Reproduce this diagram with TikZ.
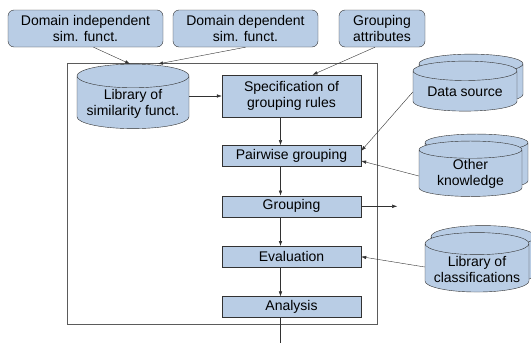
\documentclass[tikz,border=0pt]{standalone}
\usepackage{fontspec}
\setmainfont{Liberation Sans}
\usetikzlibrary{shapes.geometric, shadows, positioning, arrows.meta}
\definecolor{boxblue}{RGB}{185,205,229}
\definecolor{linegray}{RGB}{50,50,50}
\tikzset{
>={Latex[length=5pt,width=3.5pt]}, % small solid arrow heads
every node/.style={font=\fontsize{14}{16}\selectfont, align=center}, % size of all the texts
flow/.style={draw=linegray, ->}, % every connector
source/.style={draw=linegray, fill=boxblue, rounded corners=6pt, minimum height=37pt, inner sep=1pt}, % boxes over the frame
stepbox/.style={draw=linegray, fill=boxblue, minimum width=139pt, minimum height=21pt, inner sep=1pt}, % steps in the frame
store/.style={cylinder, shape border rotate=90, aspect=0.25, draw=linegray, fill=boxblue, inner sep=1pt}, % one database
stack/.style={store, copy shadow={shadow xshift=6pt, shadow yshift=7pt, fill=boxblue, draw=linegray}}, % two databases
}

\begin{document}
\begin{tikzpicture}[x=1pt, y=-1pt]
\useasboundingbox (0,0) rectangle (531,343);
\draw[linegray!80] (67,63) rectangle (377,324);

\node[source, minimum width=155pt] (indep) at (85.5,28.5) {Domain independent\\sim. funct.};
\node[source, minimum width=145pt] (dep) at (245.5,28.5) {Domain dependent\\sim. funct.};
\node[source, minimum width=86pt] (attr) at (382,28.5) {Grouping\\attributes};

\node[store, minimum width=112pt, minimum height=57pt] (simlib) at (133,103.5) {Library of\\similarity funct.};
\node[stepbox, minimum height=42pt] (spec) at (291.5,96) {Specification of\\grouping rules};
\node[stepbox, below=28pt of spec] (pair) {Pairwise grouping};
\node[stepbox, below=29pt of pair] (grp) {Grouping};
\node[stepbox, below=29pt of grp] (eval) {Evaluation};
\node[stepbox, below=29pt of eval] (anal) {Analysis};

\node[stack, minimum width=104pt, minimum height=50pt] (data) at (465,92) {Data source};
\node[stack, minimum width=103pt, minimum height=48pt] (know) at (470.5,174) {Other\\knowledge};
\node[stack, minimum width=104pt, minimum height=48pt] (class) at (477,269) {Library of\\classifications};

\coordinate[right=36pt of grp.east] (grpout);
\coordinate[below=31pt of anal.south, xshift=-11pt] (out);

\path ([xshift=8pt]indep.south) edge[flow] ([xshift=-3pt]simlib.north)
(dep.south) edge[flow] ([xshift=25pt]simlib.north)
([xshift=-7pt]attr.south) edge[flow] ([xshift=21pt]spec.north)
(simlib.east |- spec.west) edge[flow] (spec.west)
([xshift=-11pt]spec.south) edge[flow] ([xshift=-11pt]pair.north)
([xshift=-11pt]pair.south) edge[flow] ([xshift=-11pt]grp.north)
([xshift=-11pt]grp.south) edge[flow] ([xshift=-11pt]eval.north)
([xshift=-11pt]eval.south) edge[flow] ([xshift=-11pt]anal.north)
([xshift=-11pt]anal.south) edge[flow] (out)
(grp.east) edge[flow] (grpout)
(data.west) edge[flow] ([yshift=5pt]pair.east)
([yshift=-2pt]know.west) edge[flow] ([yshift=-5pt]pair.east)
([yshift=2pt]class.west) edge[flow] (eval.east);
\end{tikzpicture}
\end{document}
